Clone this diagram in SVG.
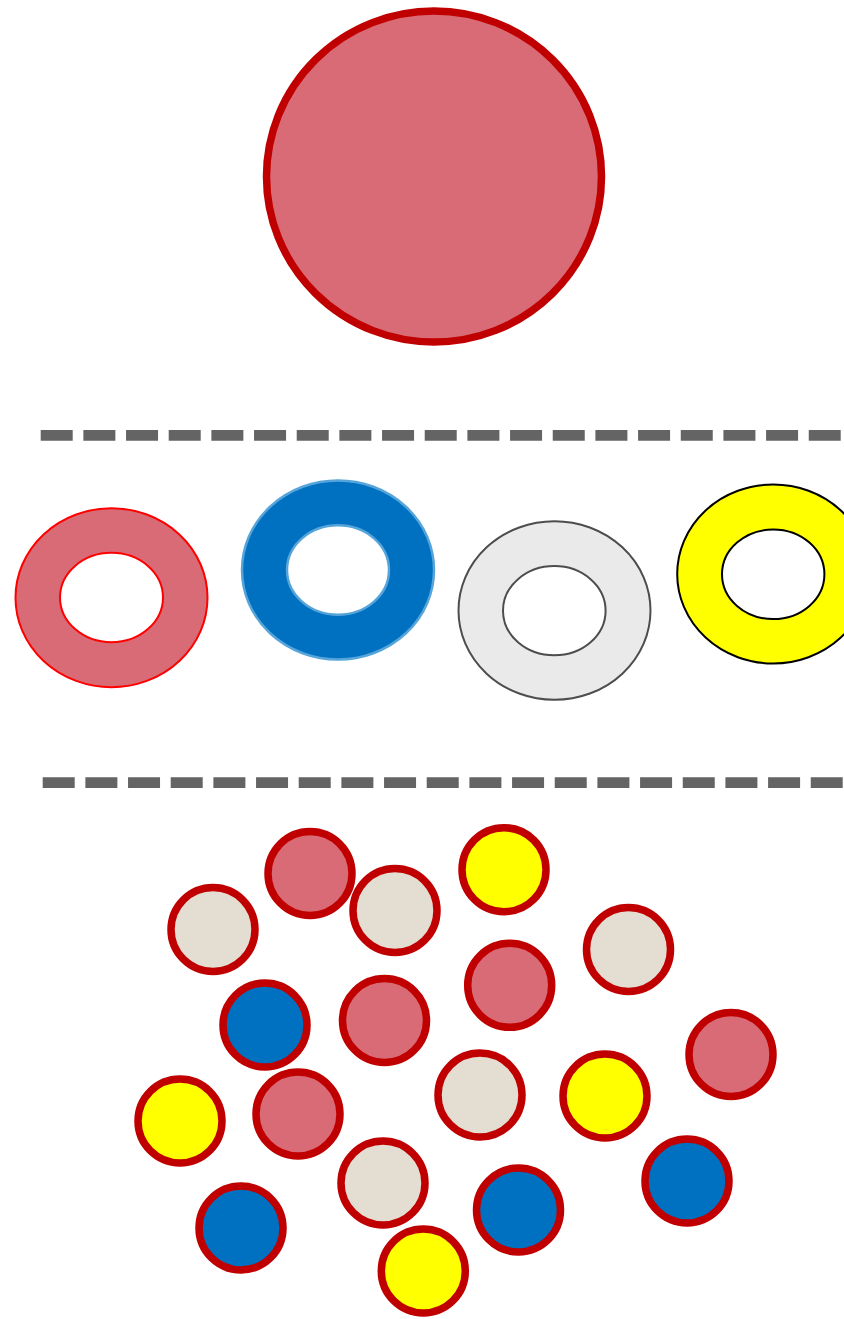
<svg xmlns="http://www.w3.org/2000/svg" width="844" height="1319" viewBox="0 0 844 1319">
<style>
.sep{stroke:#646464;stroke-width:10.67;stroke-dasharray:32 10.67;fill:none}
.dot{stroke:#C00000;stroke-width:7.5}
.pink{fill:#D96B76}
.beige{fill:#E3DDD2}
.blue{fill:#0070C0}
.yellow{fill:#FFFF00}
.ring{fill-rule:evenodd}
</style>
<rect width="844" height="1319" fill="#FFFFFF"/>
<g id="big-cell">
<ellipse cx="434" cy="176.5" rx="167.5" ry="165.5" fill="#D96B76" stroke="#C00000" stroke-width="7.5"/>
</g>
<g id="separators">
<line class="sep" x1="40.7" y1="435.3" x2="840.7" y2="435.3"/>
<line class="sep" x1="42.7" y1="782.7" x2="842.7" y2="782.7"/>
</g>
<g id="ring-pink">
<path class="ring" d="M15.5,597.7 a96,89.5 0 1,0 192,0 a96,89.5 0 1,0 -192,0 Z M60,597.5 a51.5,44.7 0 1,0 103,0 a51.5,44.7 0 1,0 -103,0 Z" fill="#D96B76" stroke="#FF0000" stroke-width="2"/>
</g>
<g id="ring-blue">
<path class="ring" d="M242,570 a96,89.5 0 1,0 192,0 a96,89.5 0 1,0 -192,0 Z M287,570 a51,44.7 0 1,0 102,0 a51,44.7 0 1,0 -102,0 Z" fill="#0070C0" stroke="#56A5DA" stroke-width="2.5"/>
</g>
<g id="ring-grey">
<path class="ring" d="M458.5,610.5 a96,89.3 0 1,0 192,0 a96,89.3 0 1,0 -192,0 Z M503,610.7 a51.3,44.6 0 1,0 102.6,0 a51.3,44.6 0 1,0 -102.6,0 Z" fill="#EAEAEA" stroke="#4D4D4D" stroke-width="2"/>
</g>
<g id="ring-yellow">
<path class="ring" d="M677.2,574 a96,89.5 0 1,0 192,0 a96,89.5 0 1,0 -192,0 Z M722,574.3 a51.2,44.8 0 1,0 102.4,0 a51.2,44.8 0 1,0 -102.4,0 Z" fill="#FFFF00" stroke="#000000" stroke-width="2"/>
</g>
<g id="cells">
<g id="c1"><circle class="dot pink" cx="310" cy="873.5" r="42"/></g>
<g id="c2"><circle class="dot beige" cx="213" cy="929.5" r="42"/></g>
<g id="c3"><circle class="dot beige" cx="395" cy="910.5" r="42"/></g>
<g id="c4"><circle class="dot blue" cx="265" cy="1025" r="42"/></g>
<g id="c5"><circle class="dot pink" cx="384.5" cy="1020.5" r="42"/></g>
<g id="c6"><circle class="dot yellow" cx="504" cy="869.7" r="42"/></g>
<g id="c7"><circle class="dot beige" cx="628.5" cy="949.5" r="42"/></g>
<g id="c8"><circle class="dot pink" cx="509.7" cy="985.3" r="42"/></g>
<g id="c9"><circle class="dot pink" cx="731" cy="1054.5" r="42"/></g>
<g id="c10"><circle class="dot beige" cx="480" cy="1095" r="42"/></g>
<g id="c11"><circle class="dot yellow" cx="605" cy="1096" r="42"/></g>
<g id="c12"><circle class="dot blue" cx="687" cy="1181" r="42"/></g>
<g id="c13"><circle class="dot blue" cx="518.5" cy="1210" r="42"/></g>
<g id="c14"><circle class="dot yellow" cx="180" cy="1121" r="42"/></g>
<g id="c15"><circle class="dot pink" cx="298" cy="1114" r="42"/></g>
<g id="c16"><circle class="dot beige" cx="383" cy="1183" r="42"/></g>
<g id="c17"><circle class="dot blue" cx="241" cy="1228" r="42"/></g>
<g id="c18"><circle class="dot yellow" cx="423.3" cy="1271" r="42"/></g>
</g>
</svg>
